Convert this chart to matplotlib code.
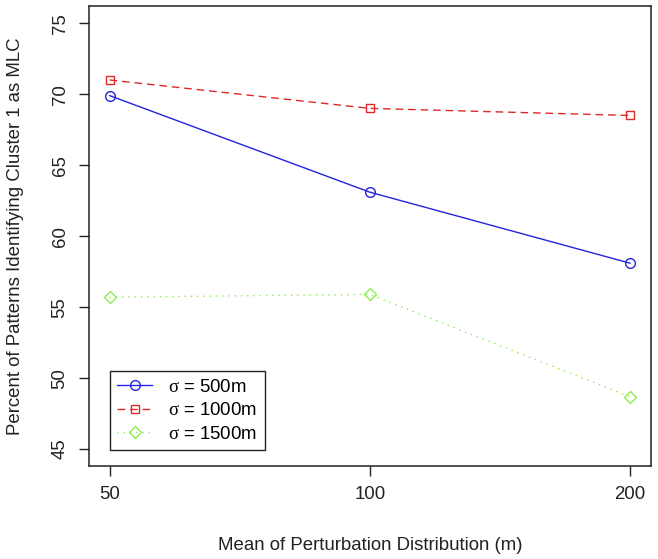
import matplotlib
matplotlib.use("Agg")
import matplotlib.pyplot as plt

plt.rcParams["font.family"] = ["Liberation Sans", "DejaVu Sans"]
plt.rcParams["mathtext.fontset"] = "custom"
plt.rcParams["mathtext.rm"] = "Liberation Serif"

x_labels = ["50", "100", "200"]
x_pos = [1, 2, 3]

sig500 = [69.9, 63.1, 58.1]
sig1000 = [71.0, 69.0, 68.5]
sig1500 = [55.7, 55.9, 48.7]

series = [
    (r"$\mathrm{\sigma}$ = 500m", sig500, "#2424dc", "-", "o", 7),
    (r"$\mathrm{\sigma}$ = 1000m", sig1000, "#dc2a2a", (0, (5.5, 3.5)), "s", 6),
    (r"$\mathrm{\sigma}$ = 1500m", sig1500, "#8ced50", (0, (1, 3.5)), "D", 6.5),
]

fig = plt.figure(figsize=(6.58, 5.59), dpi=100)
ax = fig.add_axes([0.135, 0.166, 0.854, 0.823])

for label, vals, col, ls, mk, ms in series:
    ax.plot(x_pos, vals, color=col, linestyle=ls, linewidth=1.0,
            marker=mk, markersize=ms, markerfacecolor="none",
            markeredgecolor=col, markeredgewidth=1.0, label=label)

ax.set_xlim(0.92, 3.08)
ax.set_ylim(43.8, 76.2)
ax.set_xticks(x_pos)
ax.set_xticklabels(x_labels)
ax.set_yticks([45, 50, 55, 60, 65, 70, 75])
for lbl in ax.get_yticklabels():
    lbl.set_rotation(90)
    lbl.set_va("center")
ax.tick_params(direction="out", length=7.5, width=1, labelsize=13.4, pad=7,
               colors="#222222")
for sp in ax.spines.values():
    sp.set_linewidth(1.1)
    sp.set_color("#222222")

ax.set_xlabel("Mean of Perturbation Distribution (m)", fontsize=13.4,
              labelpad=24, color="#222222")
ax.set_ylabel("Percent of Patterns Identifying Cluster 1 as MLC",
              fontsize=13.4, labelpad=20, color="#222222")

leg = ax.legend(loc="lower left", bbox_to_anchor=(0.037, 0.035),
                borderaxespad=0, fontsize=13.4, fancybox=False,
                framealpha=1, edgecolor="#222222", handlelength=1.9,
                borderpad=0.4, labelspacing=0.35, handletextpad=0.85)
leg.get_frame().set_linewidth(1.0)

fig.savefig("out.png", dpi=100)
